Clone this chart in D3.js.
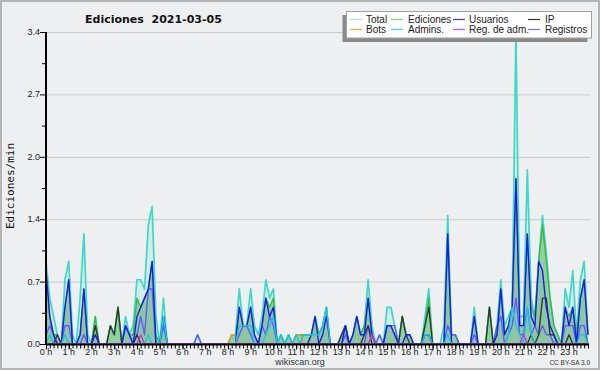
<!DOCTYPE html>
<html><head><meta charset="utf-8">
<script src="https://cdn.jsdelivr.net/npm/d3@7"></script>
<style>body{margin:0;background:#fff}svg{display:block}</style>
</head><body><svg id="c" width="600" height="370"></svg>
<script>
// 10-minute slots, 144 per day (values in edits per minute)
const slots = d3.range(144).map(i => i / 6);
const hours = d3.range(24);
const hourLabels = hours.map(h => h + " h");
const yTickValues = [0, 0.68, 1.36, 2.04, 2.72, 3.4];
const yTickLabels = ["0.0", "0.7", "1.4", "2.0", "2.7", "3.4"];
const seriesNames = ["Total", "Ediciones", "Usuarios", "IP", "Bots", "Admins.", "Reg. de adm.", "Registros"];

const total = [
 0.9,0.5,0.3,0.1,0,0.7,  0.9,0.1,0,0.5,1.2,0.1,  0,0.3,0,0,0,0.2,  0.1,0.4,0,0.3,0.1,0.2,
 0.7,0.7,0.6,1.3,1.5,0.3,  0,0.5,0,0,0,0,  0,0,0,0,0.1,0,  0,0,0,0,0,0,
 0,0.1,0.1,0.6,0.2,0.2,  0.6,0.2,0.1,0.3,0.7,0.5,  0.6,0,0.1,0,0.1,0,  0.1,0.1,0.1,0.1,0.1,0.3,
 0.1,0.2,0.4,0,0,0,  0.1,0.2,0,0.1,0.3,0.1,  0.2,0.7,0.2,0,0.1,0,  0.4,0.4,0.2,0,0.3,0.1,
 0.1,0,0,0,0.3,0.6,  0,0,0,0.2,1.4,0.1,  0.1,0,0,0,0,0.4,  0,0,0,0.4,0,0.2,
 0.7,0.2,0.3,0.4,3.4,0.3,  0.3,1.9,0.5,0.3,0.9,1.4,  1.0,0.5,0.2,0.1,0,0.6,  0.4,0.8,0.1,0.7,0.9,0.1];
const ediciones = [
 0.8,0.3,0.1,0.1,0,0.4,  0.7,0,0,0.1,0.6,0,  0,0.3,0,0,0,0.2,  0.1,0.4,0,0.2,0.1,0.1,
 0.5,0.4,0.5,0.6,0.9,0.1,  0,0.3,0,0,0,0,  0,0,0,0,0,0,  0,0,0,0,0,0,
 0,0.1,0.1,0.4,0.2,0.2,  0.4,0.1,0,0.2,0.5,0.4,  0.5,0,0.1,0,0.1,0,  0.1,0.1,0.1,0.1,0.1,0.3,
 0.1,0.2,0.4,0,0,0,  0.1,0.2,0,0.1,0.3,0.1,  0.2,0.5,0.1,0,0,0,  0.2,0.2,0.1,0,0.3,0.1,
 0.1,0,0,0,0.2,0.5,  0,0,0,0,1.2,0.1,  0.1,0,0,0,0,0.3,  0,0,0,0.4,0,0.1,
 0.6,0.1,0.2,0.4,1.8,0.2,  0.2,1.2,0.4,0.3,0.9,1.3,  0.9,0.5,0.2,0.1,0,0.4,  0.3,0.4,0.1,0.5,0.7,0.1];
const usuarios = [
 0.8,0.3,0.1,0,0,0.4,  0.7,0,0,0.1,0.6,0,  0,0.1,0,0,0,0,  0,0,0,0.2,0.1,0,
 0.3,0.4,0.5,0.6,0.9,0,  0,0.3,0,0,0,0,  0,0,0,0,0,0,  0,0,0,0,0,0,
 0,0,0,0.4,0.2,0.2,  0.4,0.1,0,0.2,0.5,0.3,  0.4,0,0,0,0,0,  0,0,0,0,0.1,0.3,
 0,0.1,0.3,0,0,0,  0,0.2,0,0.1,0.3,0.1,  0.1,0.5,0.1,0,0,0,  0.2,0.2,0.1,0,0,0.1,
 0.1,0,0,0,0.1,0.1,  0,0,0,0,1.2,0,  0,0,0,0,0,0.3,  0,0,0,0,0,0.1,
 0.6,0.1,0.2,0.4,1.8,0.2,  0.2,1.2,0.3,0.2,0.9,0.8,  0.4,0.2,0.1,0,0,0.4,  0.2,0.4,0,0.5,0.7,0.1];
const ip = [
 0,0,0,0.1,0,0,  0,0,0,0,0,0,  0,0.2,0,0,0,0.2,  0.1,0.4,0,0,0,0,
 0.1,0,0,0,0,0,  0,0,0,0,0,0,  0,0,0,0,0,0,  0,0,0,0,0,0,
 0,0,0,0,0,0,  0,0,0,0,0,0,  0,0,0,0,0,0,  0,0,0,0,0,0,
 0,0,0,0,0,0,  0.1,0.2,0,0,0,0,  0.1,0.2,0,0,0,0,  0,0,0,0,0.3,0.1,
 0,0,0,0,0.2,0.4,  0,0,0,0,0,0,  0,0,0,0,0,0,  0,0,0,0.4,0,0,
 0,0,0,0,0,0,  0,0,0.1,0,0.1,0.5,  0.5,0.1,0.1,0,0,0,  0.1,0,0,0,0,0];
const bots = [
 0,0,0,0,0,0,  0,0,0,0,0,0,  0,0,0,0,0,0,  0,0,0,0,0,0,
 0,0,0,0,0,0,  0,0,0,0,0,0,  0,0,0,0,0,0,  0,0,0,0,0,0,
 0,0.1,0.1,0,0,0,  0,0,0,0,0,0,  0,0,0,0,0,0,  0.1,0.1,0,0,0,0,
 0,0,0,0,0,0,  0,0,0,0,0,0,  0,0,0,0,0,0,  0,0,0,0,0,0,
 0,0,0,0,0,0,  0,0,0,0,0,0,  0,0,0,0,0,0,  0,0,0,0,0,0,
 0,0,0,0,0,0,  0,0,0,0,0,0,  0,0,0,0,0,0,  0,0,0,0,0,0];
const admins = [
 0,0.1,0,0,0,0.1,  0,0,0,0,0,0,  0,0,0,0,0,0,  0,0,0,0,0,0,
 0,0,0,0.1,0,0,  0,0.3,0,0,0,0,  0,0,0,0,0,0,  0,0,0,0,0,0,
 0,0,0,0.2,0.2,0.2,  0.2,0,0,0,0.1,0.2,  0.3,0,0.1,0,0.1,0,  0.1,0,0.1,0.1,0.1,0.1,
 0.1,0.2,0.4,0,0,0,  0,0,0,0,0,0,  0,0,0,0,0,0,  0,0,0,0,0,0,
 0,0,0,0,0.1,0.1,  0,0,0,0,0.1,0,  0,0,0,0,0,0,  0,0,0,0,0,0,
 0,0,0.1,0.4,0.2,0.1,  0,0.4,0.1,0,0,0,  0,0,0,0,0,0,  0,0,0,0.1,0.1,0];
const regAdm = [
 0,0,0,0,0,0,  0,0,0,0,0,0,  0,0,0,0,0,0,  0,0,0,0,0,0,
 0,0.1,0,0,0,0,  0,0,0,0,0,0,  0,0,0,0,0,0,  0,0,0,0,0,0,
 0,0,0,0,0,0,  0,0,0,0,0,0,  0,0,0,0,0,0,  0,0,0,0,0,0,
 0,0,0,0,0,0,  0,0,0,0,0,0,  0,0,0.1,0,0,0,  0,0,0,0,0,0,
 0,0,0,0,0,0,  0,0,0,0,0,0,  0,0,0,0,0,0,  0,0,0,0,0,0,
 0,0,0,0,0,0,  0.1,0,0,0,0,0,  0,0,0,0,0,0,  0,0,0,0,0,0];
const registros = [
 0.1,0.2,0.1,0,0,0.2,  0.2,0,0,0,0.1,0,  0,0,0,0,0,0,  0,0,0,0.2,0.1,0,
 0.1,0.3,0.1,0.6,0.6,0,  0,0.2,0,0,0,0,  0,0,0,0,0.1,0,  0,0,0,0,0,0,
 0,0,0,0.1,0.2,0.2,  0.1,0,0,0.2,0.1,0.3,  0.2,0,0,0,0,0,  0,0,0,0,0,0,
 0,0,0,0,0,0,  0,0.1,0,0,0,0,  0,0.2,0.1,0,0.1,0,  0.2,0.2,0.2,0,0,0,
 0,0,0,0,0.1,0.1,  0,0,0,0,0.2,0.1,  0.1,0,0,0,0,0.1,  0,0,0,0,0,0.2,
 0.3,0,0.1,0.2,0.5,0.1,  0.1,0.4,0.1,0.2,0.1,0.2,  0.1,0.1,0,0,0,0.2,  0.2,0.2,0,0.2,0.2,0];

const lineColors = {
  "Total": "#3ed8c8", "Ediciones": "#40b840", "Usuarios": "#1a1aee", "IP": "#2e3a30",
  "Bots": "#f0a020", "Admins.": "#1ec4e4", "Reg. de adm.": "#d830d8", "Registros": "#5c5cff"
};
const legendColors = {
  "Total": "#a8e8e2", "Ediciones": "#7fd07f", "Usuarios": "#3c3cf4", "IP": "#333333",
  "Bots": "#f4a43a", "Admins.": "#3ad4ea", "Reg. de adm.": "#e048ea", "Registros": "#7474ff"
};
const seriesData = {
  "Total": total, "Ediciones": ediciones, "Usuarios": usuarios, "IP": ip,
  "Bots": bots, "Admins.": admins, "Reg. de adm.": regAdm, "Registros": registros
};

const svg = d3.select("#c");
const W = 600, H = 370;
const x0 = 46, pxPerHour = 22.74;
const x = d3.scaleLinear().domain([0, 24]).range([x0, x0 + 24 * pxPerHour]);
const y = d3.scaleLinear().domain([0, 3.4]).range([344, 32]);
const xEnd = x(143 / 6) + 1;

svg.append("rect").attr("x", 0).attr("y", 0).attr("width", W).attr("height", H).attr("fill", "#eeeff0");
svg.append("rect").attr("x", 1).attr("y", 1).attr("width", W - 2).attr("height", H - 2)
  .attr("fill", "none").attr("stroke", "#b4b4b4").attr("stroke-width", 2);

// gridlines
svg.append("g").selectAll("line").data(yTickValues.slice(1)).join("line")
  .attr("x1", x0 + 1).attr("x2", 590).attr("y1", d => y(d) + 0.5).attr("y2", d => y(d) + 0.5)
  .attr("stroke", "#c9c9c9").attr("stroke-width", 1);

// areas
const area = d => d3.area().x((v, i) => x(slots[i])).y0(y(0)).y1(v => y(v))(d);
svg.append("path").attr("d", area(total)).attr("fill", "rgba(64,224,208,0.16)");
svg.append("path").attr("d", area(ediciones)).attr("fill", "rgba(70,175,70,0.45)");
svg.append("path").attr("d", area(usuarios)).attr("fill", "rgba(30,30,220,0.05)");

const line = d3.line().x((v, i) => x(slots[i])).y(v => y(v));
const drawOrder = ["Total", "Ediciones", "Bots", "Registros", "IP", "Usuarios", "Admins.", "Reg. de adm."];
drawOrder.forEach(name => {
  svg.append("path").attr("d", line(seriesData[name])).attr("fill", "none")
    .attr("stroke", lineColors[name]).attr("stroke-width", name === "Total" ? 1.7 : 1.4)
    .attr("stroke-linejoin", "round");
});

// y axis
const gy = svg.append("g");
gy.append("line").attr("x1", x0).attr("x2", x0).attr("y1", y(3.4)).attr("y2", y(0) + 1)
  .attr("stroke", "#000").attr("stroke-width", 2);
gy.selectAll(".maj").data(yTickValues).join("line")
  .attr("x1", x0 - 6).attr("x2", x0).attr("y1", d => y(d) + 0.5).attr("y2", d => y(d) + 0.5)
  .attr("stroke", "#000").attr("stroke-width", 1);
gy.selectAll(".min").data(yTickValues.slice(1).map(d => d - 0.34)).join("line")
  .attr("x1", x0 - 4).attr("x2", x0).attr("y1", d => y(d) + 0.5).attr("y2", d => y(d) + 0.5)
  .attr("stroke", "#000").attr("stroke-width", 1);
gy.selectAll("text").data(yTickValues).join("text")
  .attr("x", x0 - 6).attr("y", d => y(d) + 3).attr("text-anchor", "end")
  .attr("font-family", "Liberation Sans, Arial, sans-serif").attr("font-size", 9).attr("fill", "#222")
  .text((d, i) => yTickLabels[i]);

// x axis
const gx = svg.append("g");
gx.selectAll(".mt").data(slots).join("line")
  .attr("x1", d => x(d) + 0.5).attr("x2", d => x(d) + 0.5).attr("y1", y(0)).attr("y2", y(0) + 4.5)
  .attr("stroke", "#000").attr("stroke-width", 1);
gx.selectAll(".ht").data(hours).join("line")
  .attr("x1", d => x(d) + 0.5).attr("x2", d => x(d) + 0.5).attr("y1", y(0)).attr("y2", y(0) + 5.5)
  .attr("stroke", "#000").attr("stroke-width", 1);
gx.append("line").attr("x1", x0).attr("x2", xEnd).attr("y1", y(0) + 0.5).attr("y2", y(0) + 0.5)
  .attr("stroke", "#000").attr("stroke-width", 2);
gx.selectAll("text").data(hours).join("text")
  .attr("x", d => x(d)).attr("y", 355).attr("text-anchor", "middle")
  .attr("font-family", "Liberation Sans, Arial, sans-serif").attr("font-size", 9).attr("fill", "#222")
  .text((d, i) => hourLabels[i]);

// titles
svg.append("text").attr("x", 85).attr("y", 23).attr("font-family", "DejaVu Sans, sans-serif")
  .attr("font-weight", "bold").attr("font-size", 11).attr("fill", "#111")
  .style("white-space", "pre").text("Ediciones  2021-03-05");
svg.append("text").attr("transform", "translate(14,186) rotate(-90)").attr("text-anchor", "middle")
  .attr("font-family", "DejaVu Sans Mono, monospace").attr("font-size", 11).attr("fill", "#111").text("Ediciones/min");
svg.append("text").attr("x", 300).attr("y", 365).attr("text-anchor", "middle")
  .attr("font-family", "Liberation Sans, Arial, sans-serif").attr("font-size", 9).attr("fill", "#333").text("wikiscan.org");
svg.append("text").attr("x", 590).attr("y", 365).attr("text-anchor", "end")
  .attr("font-family", "Liberation Sans, Arial, sans-serif").attr("font-size", 6.5).attr("fill", "#333").text("CC BY-SA 3.0");

// legend
const lg = svg.append("g");
lg.append("rect").attr("x", 342.5).attr("y", 15).attr("width", 245).attr("height", 27).attr("fill", "#8a8a8a");
lg.append("rect").attr("x", 346.5).attr("y", 11.5).attr("width", 245).attr("height", 26.5)
  .attr("fill", "#fff").attr("stroke", "#a0a0a0").attr("stroke-width", 1);
const colSw = [350, 391, 453, 528], colTx = [366, 408, 469, 545];
const legendOrder = [["Total", "Ediciones", "Usuarios", "IP"], ["Bots", "Admins.", "Reg. de adm.", "Registros"]];
legendOrder.forEach((row, r) => row.forEach((name, c) => {
  const yy = 19.5 + r * 10;
  lg.append("line").attr("x1", colSw[c]).attr("x2", colSw[c] + 12).attr("y1", yy).attr("y2", yy)
    .attr("stroke", legendColors[name]).attr("stroke-width", 1.2);
  lg.append("text").attr("x", colTx[c]).attr("y", yy + 3.5)
    .attr("font-family", "Liberation Sans, Arial, sans-serif").attr("font-size", 10).attr("fill", "#222").text(name);
}));
</script></body></html>
